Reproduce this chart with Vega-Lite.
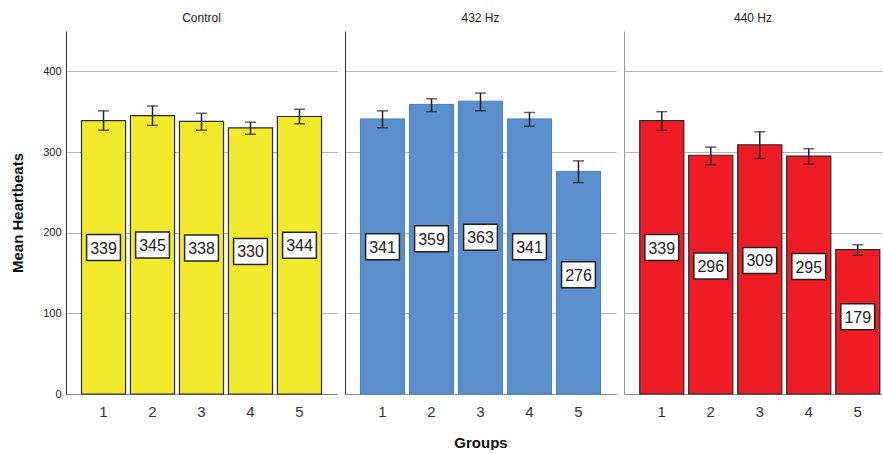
{
  "$schema": "https://vega.github.io/schema/vega-lite/v6.json",
  "background": "white",
  "padding": {"left": 10, "top": 12, "right": 0, "bottom": 0},
  "spacing": 8,
  "data": {"values": [
    {"cond": "Control", "group": "1", "mean": 339, "lo": 327, "hi": 351},
    {"cond": "Control", "group": "2", "mean": 345, "lo": 333, "hi": 357},
    {"cond": "Control", "group": "3", "mean": 338, "lo": 327, "hi": 348},
    {"cond": "Control", "group": "4", "mean": 330, "lo": 322, "hi": 337},
    {"cond": "Control", "group": "5", "mean": 344, "lo": 335, "hi": 353},
    {"cond": "432 Hz", "group": "1", "mean": 341, "lo": 330, "hi": 351},
    {"cond": "432 Hz", "group": "2", "mean": 359, "lo": 350, "hi": 366},
    {"cond": "432 Hz", "group": "3", "mean": 363, "lo": 351, "hi": 373},
    {"cond": "432 Hz", "group": "4", "mean": 341, "lo": 332, "hi": 349},
    {"cond": "432 Hz", "group": "5", "mean": 276, "lo": 262, "hi": 289},
    {"cond": "440 Hz", "group": "1", "mean": 339, "lo": 327, "hi": 350},
    {"cond": "440 Hz", "group": "2", "mean": 296, "lo": 284, "hi": 306},
    {"cond": "440 Hz", "group": "3", "mean": 309, "lo": 292, "hi": 325},
    {"cond": "440 Hz", "group": "4", "mean": 295, "lo": 285, "hi": 304},
    {"cond": "440 Hz", "group": "5", "mean": 179, "lo": 172, "hi": 185}
  ]},
  "hconcat": [
    {
      "title": "Control",
      "width": 271, "height": 363,
      "transform": [{"filter": "datum.cond == 'Control'"}],
      "encoding": {"x": {"field": "group", "type": "ordinal", "scale": {"paddingInner": 0.1, "paddingOuter": 0.316}, "axis": {"title": null, "labelAngle": 0, "labelFontSize": 15, "labelColor": "#333", "labelPadding": 10, "ticks": false, "domainColor": "#888", "grid": false}}},
      "layer": [
        {
          "layer": [
            {"mark": {"type": "bar", "fill": "#f2ea2c", "stroke": "#2a2a2a", "strokeWidth": 1.2},
             "encoding": {"y": {"field": "mean", "type": "quantitative", "scale": {"domain": [0, 420]}, "axis": {"title": "Mean Heartbeats", "titleFontSize": 15, "titleFontWeight": "bold", "titleColor": "#111", "titlePadding": 17, "labelFontSize": 11, "labelColor": "#222", "labelPadding": 5, "ticks": false, "values": [0, 100, 200, 300, 400], "grid": true, "gridColor": "#b4b4b4", "domainColor": "#333"}}}},
            {"mark": {"type": "rule", "color": "#222", "strokeWidth": 1.5}, "encoding": {"y": {"field": "lo", "type": "quantitative"}, "y2": {"field": "hi"}}},
            {"mark": {"type": "tick", "color": "#222", "thickness": 1.5, "size": 11}, "encoding": {"y": {"field": "lo", "type": "quantitative"}}},
            {"mark": {"type": "tick", "color": "#222", "thickness": 1.5, "size": 11}, "encoding": {"y": {"field": "hi", "type": "quantitative"}}}
          ]
        },
        {
          "encoding": {"y": {"field": "mean", "type": "quantitative", "scale": {"domain": [0, 840]}, "axis": null}},
          "layer": [
            {"mark": {"type": "point", "shape": "M-1.3,-1L1.3,-1L1.3,1L-1.3,1Z", "size": 676, "filled": true, "fill": "white", "stroke": "#222", "strokeWidth": 1.5, "opacity": 1}},
            {"mark": {"type": "text", "fontSize": 16, "color": "#222", "baseline": "middle", "dy": 1}, "encoding": {"text": {"field": "mean", "type": "quantitative"}}}
          ]
        }
      ],
      "resolve": {"scale": {"y": "independent"}}
    },
    {
      "title": "432 Hz",
      "width": 271, "height": 363,
      "transform": [{"filter": "datum.cond == '432 Hz'"}],
      "encoding": {"x": {"field": "group", "type": "ordinal", "scale": {"paddingInner": 0.1, "paddingOuter": 0.316}, "axis": {"title": "Groups", "titleFontSize": 15, "titleFontWeight": "bold", "titleColor": "#111", "titlePadding": 16, "labelAngle": 0, "labelFontSize": 15, "labelColor": "#333", "labelPadding": 10, "ticks": false, "domainColor": "#888", "grid": false}}},
      "layer": [
        {
          "layer": [
            {"mark": {"type": "bar", "fill": "#5b8fcc", "stroke": "#4a7fc0", "strokeWidth": 1},
             "encoding": {"y": {"field": "mean", "type": "quantitative", "scale": {"domain": [0, 420]}, "axis": {"title": null, "labels": false, "ticks": false, "values": [0, 100, 200, 300, 400], "grid": true, "gridColor": "#b4b4b4", "domainColor": "#333"}}}},
            {"mark": {"type": "rule", "color": "#222", "strokeWidth": 1.5}, "encoding": {"y": {"field": "lo", "type": "quantitative"}, "y2": {"field": "hi"}}},
            {"mark": {"type": "tick", "color": "#222", "thickness": 1.5, "size": 11}, "encoding": {"y": {"field": "lo", "type": "quantitative"}}},
            {"mark": {"type": "tick", "color": "#222", "thickness": 1.5, "size": 11}, "encoding": {"y": {"field": "hi", "type": "quantitative"}}}
          ]
        },
        {
          "encoding": {"y": {"field": "mean", "type": "quantitative", "scale": {"domain": [0, 840]}, "axis": null}},
          "layer": [
            {"mark": {"type": "point", "shape": "M-1.3,-1L1.3,-1L1.3,1L-1.3,1Z", "size": 676, "filled": true, "fill": "white", "stroke": "#222", "strokeWidth": 1.5, "opacity": 1}},
            {"mark": {"type": "text", "fontSize": 16, "color": "#222", "baseline": "middle", "dy": 1}, "encoding": {"text": {"field": "mean", "type": "quantitative"}}}
          ]
        }
      ],
      "resolve": {"scale": {"y": "independent"}}
    },
    {
      "title": "440 Hz",
      "width": 258, "height": 363,
      "transform": [{"filter": "datum.cond == '440 Hz'"}],
      "encoding": {"x": {"field": "group", "type": "ordinal", "scale": {"paddingInner": 0.1, "paddingOuter": 0.183, "align": 0.877}, "axis": {"title": null, "labelAngle": 0, "labelFontSize": 15, "labelColor": "#333", "labelPadding": 10, "ticks": false, "domainColor": "#888", "grid": false}}},
      "layer": [
        {
          "layer": [
            {"mark": {"type": "bar", "fill": "#ee1c24", "stroke": "#2a2a2a", "strokeWidth": 1.2},
             "encoding": {"y": {"field": "mean", "type": "quantitative", "scale": {"domain": [0, 420]}, "axis": {"title": null, "labels": false, "ticks": false, "values": [0, 100, 200, 300, 400], "grid": true, "gridColor": "#b4b4b4", "domainColor": "#999"}}}},
            {"mark": {"type": "rule", "color": "#222", "strokeWidth": 1.5}, "encoding": {"y": {"field": "lo", "type": "quantitative"}, "y2": {"field": "hi"}}},
            {"mark": {"type": "tick", "color": "#222", "thickness": 1.5, "size": 11}, "encoding": {"y": {"field": "lo", "type": "quantitative"}}},
            {"mark": {"type": "tick", "color": "#222", "thickness": 1.5, "size": 11}, "encoding": {"y": {"field": "hi", "type": "quantitative"}}}
          ]
        },
        {
          "encoding": {"y": {"field": "mean", "type": "quantitative", "scale": {"domain": [0, 840]}, "axis": null}},
          "layer": [
            {"mark": {"type": "point", "shape": "M-1.3,-1L1.3,-1L1.3,1L-1.3,1Z", "size": 676, "filled": true, "fill": "white", "stroke": "#222", "strokeWidth": 1.5, "opacity": 1}},
            {"mark": {"type": "text", "fontSize": 16, "color": "#222", "baseline": "middle", "dy": 1}, "encoding": {"text": {"field": "mean", "type": "quantitative"}}}
          ]
        }
      ],
      "resolve": {"scale": {"y": "independent"}}
    }
  ],
  "config": {
    "font": "Liberation Sans",
    "view": {"stroke": null},
    "title": {"fontSize": 12, "fontWeight": "normal", "color": "#222", "offset": 6}
  }
}
